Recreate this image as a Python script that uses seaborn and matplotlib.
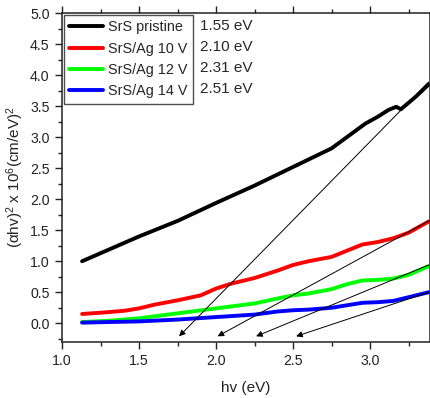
import numpy as np
import pandas as pd
import matplotlib
matplotlib.use('Agg')
import matplotlib.pyplot as plt
import seaborn as sns

# curves
x_srs = [1.13, 1.25, 1.5, 1.75, 2.0, 2.25, 2.5, 2.75, 2.97, 3.05, 3.12, 3.17, 3.2, 3.3, 3.38]
y_srs = [1.00, 1.13, 1.40, 1.65, 1.94, 2.22, 2.52, 2.82, 3.22, 3.33, 3.44, 3.49, 3.45, 3.66, 3.85]

x_ag10 = [1.13, 1.25, 1.4, 1.5, 1.6, 1.75, 1.9, 2.0, 2.1, 2.25, 2.4, 2.5, 2.6, 2.75, 2.85, 2.95, 3.05, 3.15, 3.25, 3.38]
y_ag10 = [0.15, 0.17, 0.20, 0.24, 0.30, 0.37, 0.45, 0.56, 0.64, 0.73, 0.85, 0.94, 1.00, 1.07, 1.17, 1.27, 1.31, 1.37, 1.46, 1.64]

x_ag12 = [1.13, 1.3, 1.5, 1.75, 2.0, 2.25, 2.4, 2.5, 2.6, 2.75, 2.85, 2.95, 3.05, 3.15, 3.25, 3.38]
y_ag12 = [0.02, 0.04, 0.08, 0.16, 0.24, 0.32, 0.40, 0.45, 0.48, 0.55, 0.63, 0.69, 0.70, 0.72, 0.78, 0.92]

x_ag14 = [1.13, 1.3, 1.5, 1.75, 2.0, 2.25, 2.4, 2.5, 2.6, 2.75, 2.85, 2.95, 3.05, 3.15, 3.25, 3.38]
y_ag14 = [0.01, 0.02, 0.03, 0.06, 0.10, 0.14, 0.19, 0.21, 0.22, 0.25, 0.29, 0.33, 0.34, 0.36, 0.42, 0.50]

labels = ['SrS pristine', 'SrS/Ag 10 V', 'SrS/Ag 12 V', 'SrS/Ag 14 V']
gaps = ['1.55 eV', '2.10 eV', '2.31 eV', '2.51 eV']
colors = ['black', '#ff0000', '#00ff00', '#0000ff']

# tangent arrows: start (x, y) -> tip (x, y)
arrow_start_x = [3.38, 3.38, 3.38, 3.38]
arrow_start_y = [3.89, 1.65, 0.94, 0.50]
arrow_tip_x = [1.76, 2.01, 2.26, 2.52]
arrow_tip_y = [-0.21, -0.21, -0.21, -0.21]

frames = []
for lab, xs, ys in zip(labels, [x_srs, x_ag10, x_ag12, x_ag14], [y_srs, y_ag10, y_ag12, y_ag14]):
    frames.append(pd.DataFrame({'hv': xs, 'val': ys, 'sample': lab}))
df = pd.concat(frames, ignore_index=True)

sns.set_style('ticks')
plt.rcParams['font.family'] = ['Liberation Sans', 'DejaVu Sans']

fig = plt.figure(figsize=(4.31, 3.98), dpi=100)
ax = fig.add_axes([0.144, 0.141, 0.854, 0.826])

sns.lineplot(data=df, x='hv', y='val', hue='sample', palette=colors,
             hue_order=labels, sort=False, estimator=None, linewidth=2.8, ax=ax)

for sx, sy, tx, ty in zip(arrow_start_x, arrow_start_y, arrow_tip_x, arrow_tip_y):
    ax.annotate('', xy=(tx, ty), xytext=(sx, sy),
                arrowprops=dict(arrowstyle='-|>', color='black', lw=0.7,
                                mutation_scale=9, shrinkA=0, shrinkB=0))

ax.set_xlim(1.0, 3.39)
ax.set_ylim(-0.3, 5.0)
ax.set_xticks([1.0, 1.5, 2.0, 2.5, 3.0])
ax.set_yticks(np.arange(0, 5.01, 0.5))
ax.set_xticks(np.arange(1.25, 3.39, 0.5), minor=True)
ax.set_yticks(np.arange(-0.25, 5.0, 0.5), minor=True)
ax.set_xticklabels(['1.0', '1.5', '2.0', '2.5', '3.0'])
ax.tick_params(which='both', direction='out', labelsize=10.2, color='#222222',
               labelcolor='#222222', pad=4)
ax.tick_params(which='major', length=5, width=1)
ax.tick_params(which='minor', length=3, width=1)
ax.tick_params(which='both', top=True, right=True)
for s in ax.spines.values():
    s.set_linewidth(1.1)
    s.set_color('#222222')

ax.set_xlabel('hv (eV)', fontsize=11, color='#222222', labelpad=9)
ax.set_ylabel(r'($\mathregular{\alpha}$hv)$\mathregular{^2}$ x 10$\mathregular{^6}$(cm/eV)$\mathregular{^2}$',
              fontsize=11, color='#222222')
ax.yaxis.set_label_coords(-0.097, 0.5)

leg = ax.legend(loc='upper left', fontsize=10.4, frameon=True, fancybox=False,
                edgecolor='#222222', borderpad=0.4, labelspacing=0.5,
                handlelength=2.3, handletextpad=0.35, borderaxespad=0.1)
leg.get_frame().set_linewidth(1.0)
for line in leg.get_lines():
    line.set_linewidth(2.8)

for i, g in enumerate(gaps):
    fig.text(200 / 431, 1 - (26 + 21 * i) / 398, g, fontsize=11, va='center', ha='left')

fig.savefig('out.png', dpi=100)
